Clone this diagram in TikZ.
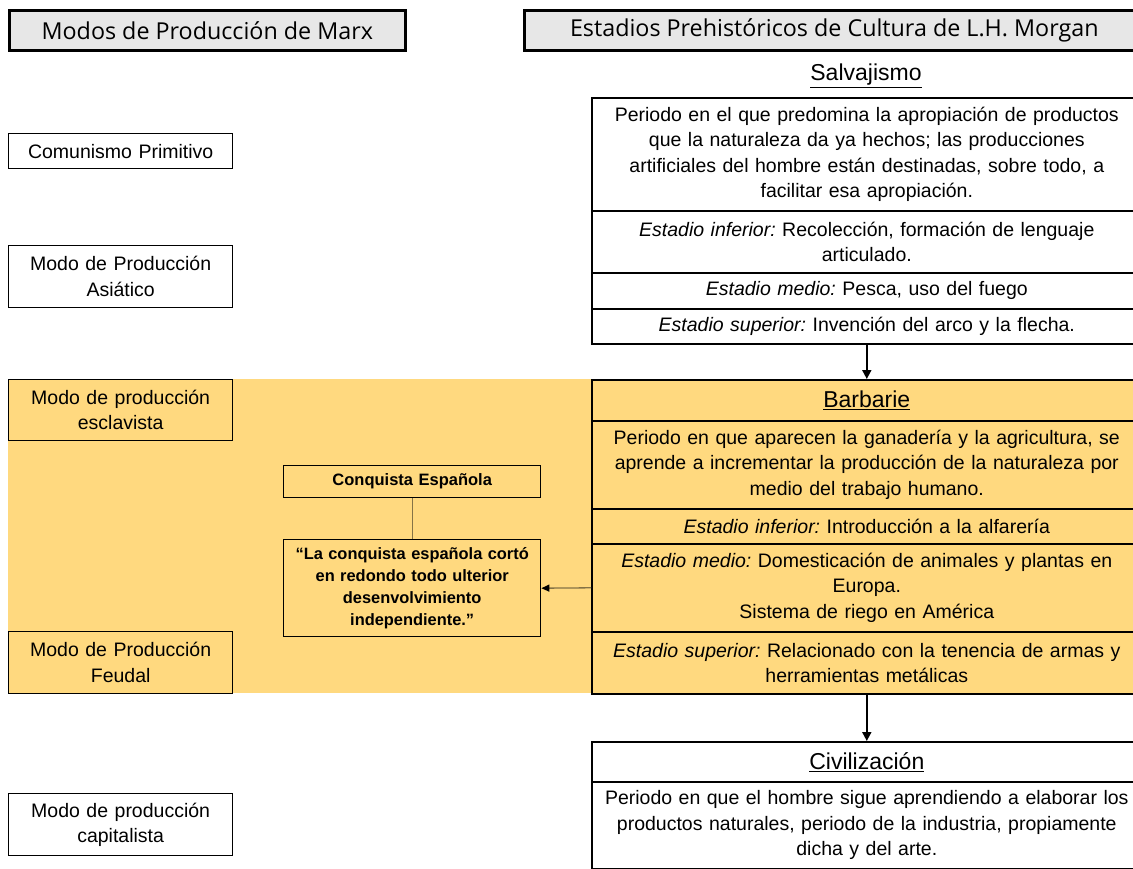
\documentclass[tikz,border=0pt]{standalone}
\usepackage{fontspec}
\setmainfont{Liberation Sans}
\newfontfamily\hdrfont{Open Sans}
\usetikzlibrary{arrows.meta}
\frenchspacing
\definecolor{band}{HTML}{FFD97F}
\definecolor{hdrgray}{HTML}{E7E7E7}
\definecolor{linkc}{HTML}{857346}
\tikzset{
  hdr/.style={draw=black, line width=2.6pt, fill=hdrgray, anchor=north west, inner sep=0pt,
    minimum height=40pt, font=\hdrfont\fontsize{23.3}{26}\selectfont},
  lbox/.style={draw=black, line width=1.3pt, anchor=north west, inner sep=0pt, align=center,
    minimum width=224pt, text width=220pt, font=\fontsize{19.5}{25.5}\selectfont},
  cell/.style={draw=black, line width=1.6pt, anchor=north west, inner sep=0pt, align=center,
    minimum width=550pt, text width=544pt, font=\fontsize{19.5}{25.5}\selectfont},
  ttl/.style={font=\fontsize{23}{26}\selectfont},
  mbox/.style={draw=black, line width=1.4pt, anchor=north west, inner sep=0pt, align=center,
    minimum width=257pt, text width=250pt},
  arr/.style={line width=1.8pt, -{Triangle[length=9pt,width=9pt]}},
  link/.style={draw=linkc, line width=1.3pt},
  larr/.style={link, -{Triangle[length=8pt,width=7pt,fill=black,color=black]}}
}
\begin{document}
\begin{tikzpicture}[x=1pt,y=-1pt]
\useasboundingbox (0,0) rectangle (1133,869);
\clip (0,0) rectangle (1133,869);
% band
\fill[band] (8,379) rectangle (592,693);
% headers
\node[hdr, minimum width=396pt] (hl) at (8,9) {Modos de Producción de Marx};
\node[hdr, minimum width=620pt] (hr) at (523,9) {Estadios Prehistóricos de Cultura de L.H. Morgan};
% left column
\node[lbox, minimum height=35pt] (cp) at (8,133) {Comunismo Primitivo};
\node[lbox, minimum height=62pt] (as) at (8,245) {Modo de Producción\\Asiático};
\node[lbox, minimum height=61pt, fill=band] (es) at (8,379) {Modo de producción\\esclavista};
\node[lbox, minimum height=62pt, fill=band] (fe) at (8,631) {Modo de Producción\\Feudal};
\node[lbox, minimum height=62pt] (ca) at (8,793) {Modo de producción\\capitalista};
% Salvajismo
\node[ttl] (salv) at (866,76) {\underline{Salvajismo}};
\node[cell, minimum height=113pt] (s1) at (591,97) {Periodo en el que predomina la apropiación de productos\\que la naturaleza da ya hechos; las producciones\\artificiales del hombre están destinadas, sobre todo, a\\facilitar esa apropiación.};
\node[cell, minimum height=62pt] (s2) at (591,210) {\textit{Estadio inferior:} Recolección, formación de lenguaje\\articulado.};
\node[cell, minimum height=36pt] (s3) at (591,272) {\textit{Estadio medio:} Pesca, uso del fuego};
\node[cell, minimum height=35pt] (s4) at (591,308) {\textit{Estadio superior:} Invención del arco y la flecha.};
% Barbarie
\node[cell, minimum height=41pt, fill=band, ttl] (b0) at (591,379) {\underline{Barbarie}};
\node[cell, minimum height=88pt, fill=band] (b1) at (591,420) {Periodo en que aparecen la ganadería y la agricultura, se\\aprende a incrementar la producción de la naturaleza por\\medio del trabajo humano.};
\node[cell, minimum height=35pt, fill=band] (b2) at (591,508) {\textit{Estadio inferior:} Introducción a la alfarería};
\node[cell, minimum height=88pt, fill=band] (b3) at (591,543) {\textit{Estadio medio:} Domesticación de animales y plantas en\\Europa.\\Sistema de riego en América};
\node[cell, minimum height=62pt, fill=band] (b4) at (591,631) {\textit{Estadio superior:} Relacionado con la tenencia de armas y\\herramientas metálicas};
% Civilizacion
\node[cell, minimum height=40pt, ttl] (c0) at (591,741) {\underline{Civilización}};
\node[cell, minimum height=87pt] (c1) at (591,781) {Periodo en que el hombre sigue aprendiendo a elaborar los\\productos naturales, periodo de la industria, propiamente\\dicha y del arte.};
% middle
\node[mbox, minimum height=32pt, font=\bfseries\fontsize{16.5}{19}\selectfont] (cq) at (283,465) {Conquista Española};
\node[mbox, minimum height=97pt, font=\bfseries\fontsize{16.4}{22}\selectfont] (qt) at (283,539) {“La conquista española cortó\\en redondo todo ulterior\\desenvolvimiento\\independiente.”};
% connectors
\draw[arr] (s4.south) -- (b0.north);
\draw[arr] (b4.south) -- (c0.north);
\draw[link] (cq.south) -- (qt.north);
\draw[larr] (b3.west) -- (qt.east);
\end{tikzpicture}
\end{document}
